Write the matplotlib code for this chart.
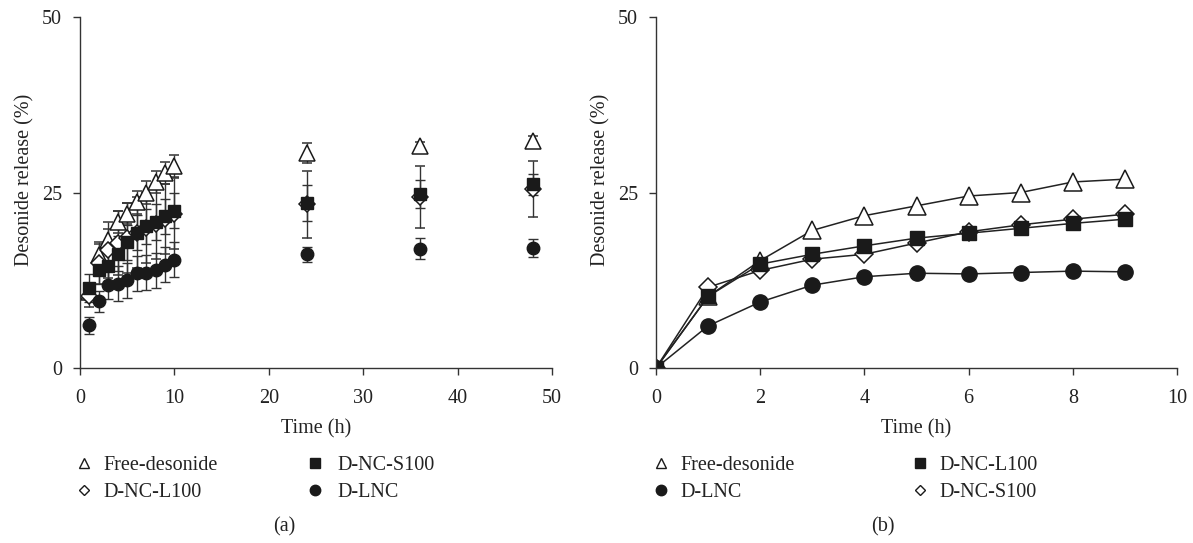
import matplotlib
matplotlib.use("Agg")
import matplotlib.pyplot as plt
from matplotlib.lines import Line2D

plt.rcParams['font.family'] = ['Liberation Serif', 'DejaVu Serif']

# ---------------- Panel (a) data ----------------
time_a = [1, 2, 3, 4, 5, 6, 7, 8, 9, 10, 24, 36, 48]
free_a = [10.8, 16.1, 18.3, 20.8, 22.0, 23.6, 25.0, 26.5, 27.8, 28.8, 30.6, 31.6, 32.4]
free_a_err = [1.0, 1.5, 1.5, 1.5, 1.5, 1.6, 1.6, 1.6, 1.6, 1.6, 1.4, 0.6, 0.6]
l100_a = [10.2, 15.0, 16.8, 17.8, 18.5, 19.3, 19.9, 20.5, 21.2, 22.0, 23.3, 24.4, 25.5]
l100_a_err = [1.5, 3.0, 4.0, 4.5, 5.0, 5.0, 5.0, 5.0, 5.0, 5.0, 4.8, 4.4, 4.0]
s100_a = [11.4, 13.9, 14.6, 16.3, 17.9, 19.3, 20.2, 20.8, 21.6, 22.4, 23.5, 24.8, 26.2]
s100_a_err = [2.0, 2.0, 2.5, 2.5, 2.5, 2.5, 2.5, 2.5, 2.5, 2.5, 2.5, 2.0, 1.5]
lnc_a = [6.1, 9.5, 11.8, 12.0, 12.5, 13.5, 13.6, 13.9, 14.7, 15.4, 16.2, 17.0, 17.1]
lnc_a_err = [1.2, 1.5, 2.0, 2.5, 2.5, 2.5, 2.5, 2.5, 2.5, 2.5, 1.1, 1.5, 1.3]

# ---------------- Panel (b) data ----------------
time_b = [0, 1, 2, 3, 4, 5, 6, 7, 8, 9]
free_b = [0, 10.2, 15.3, 19.6, 21.7, 23.1, 24.5, 25.0, 26.5, 26.9]
l100_b = [0, 10.2, 14.8, 16.2, 17.4, 18.5, 19.2, 19.9, 20.6, 21.2]
s100_b = [0, 11.5, 13.9, 15.5, 16.2, 17.8, 19.4, 20.4, 21.2, 21.9]
lnc_b = [0, 6.0, 9.4, 11.8, 13.0, 13.5, 13.4, 13.6, 13.8, 13.7]

yticks = [0, 25, 50]
xticks_a = [0, 10, 20, 30, 40, 50]
xticks_b = [0, 2, 4, 6, 8, 10]

W, H = 1193, 543
fig = plt.figure(figsize=(W/100, H/100), dpi=100)
axA = fig.add_axes([80/W, 175/H, 472/W, 351/H])
axB = fig.add_axes([656/W, 175/H, 521/W, 351/H])

FS = 14.5
K = '#1a1a1a'
TC = '#222222'

def style(ax, xt, xlim):
    ax.set_xlim(*xlim)
    ax.set_ylim(0, 50)
    ax.set_xticks(xt)
    ax.set_yticks(yticks)
    for s in ['top', 'right']:
        ax.spines[s].set_visible(False)
    for s in ['left', 'bottom']:
        ax.spines[s].set_color('#333333')
        ax.spines[s].set_linewidth(1.0)
    ax.tick_params(direction='out', length=5, width=1.0, colors='#333333',
                   labelsize=FS, labelcolor=TC)
    ax.tick_params(axis='x', pad=10)
    ax.tick_params(axis='y', pad=8)
    ax.set_xlabel('Time (h)', fontsize=FS, color=TC, labelpad=8)
    ax.set_ylabel('Desonide release (%)', fontsize=FS, color=TC)

style(axA, xticks_a, (0, 50))
style(axB, xticks_b, (0, 10))
axA.yaxis.set_label_coords(-0.096, 0.535)
axB.yaxis.set_label_coords(-0.087, 0.535)

# Panel (a) errorbar plots
ekw = dict(ls='none', ecolor='#333333', elinewidth=1.0, capsize=3.5, capthick=1.0)
axA.errorbar(time_a, free_a, yerr=free_a_err, marker='^', ms=12, mfc='white', mec=K, mew=1.1, **ekw)
axA.errorbar(time_a, l100_a, yerr=l100_a_err, marker='D', ms=8.5, mfc='white', mec=K, mew=1.1, **ekw)
axA.errorbar(time_a, s100_a, yerr=s100_a_err, marker='s', ms=9, mfc=K, mec=K, **ekw)
axA.errorbar(time_a, lnc_a, yerr=lnc_a_err, marker='o', ms=9, mfc=K, mec=K, **ekw)

# Panel (b) line plots
lkw = dict(color='#222222', lw=1.1)
axB.plot(time_b, free_b, marker='^', ms=13, mfc='white', mec=K, mew=1.1, **lkw)
axB.plot(time_b, s100_b, marker='D', ms=9.5, mfc='white', mec=K, mew=1.1, **lkw)
axB.plot(time_b, l100_b, marker='s', ms=10.5, mfc=K, mec=K, **lkw)
axB.plot(time_b, lnc_b, marker='o', ms=11, mfc=K, mec=K, **lkw)

def h(marker, filled, ms):
    return Line2D([], [], ls='none', marker=marker, ms=ms,
                  mfc=K if filled else 'white', mec=K, mew=1.0)

def col_legend(handles, labels, xm, ytop, pad=0.45):
    hl = 1.0
    x0 = xm - hl * FS * 100 / 72 / 2
    leg = fig.legend(handles, labels, loc='upper left',
                     bbox_to_anchor=(x0 / W, 1 - ytop / H), ncol=1,
                     frameon=False, fontsize=FS, handletextpad=pad,
                     labelspacing=0.4, handlelength=hl, borderpad=0,
                     borderaxespad=0)
    for t in leg.get_texts():
        t.set_color(TC)
    return leg

ytop = 456
col_legend([h('^', False, 7), h('D', False, 5.5)], ['Free-desonide', 'D-NC-L100'], 84, ytop)
col_legend([h('s', True, 7), h('o', True, 7.5)], ['D-NC-S100', 'D-LNC'], 315, ytop, pad=0.6)
col_legend([h('^', False, 7), h('o', True, 7.5)], ['Free-desonide', 'D-LNC'], 661, ytop)
col_legend([h('s', True, 7), h('D', False, 5.5)], ['D-NC-L100', 'D-NC-S100'], 920, ytop)

fig.text(284/W, 1 - 527/H, '(a)', ha='center', va='center', fontsize=FS, color=TC)
fig.text(883/W, 1 - 527/H, '(b)', ha='center', va='center', fontsize=FS, color=TC)

fig.savefig('out.png', dpi=100)
